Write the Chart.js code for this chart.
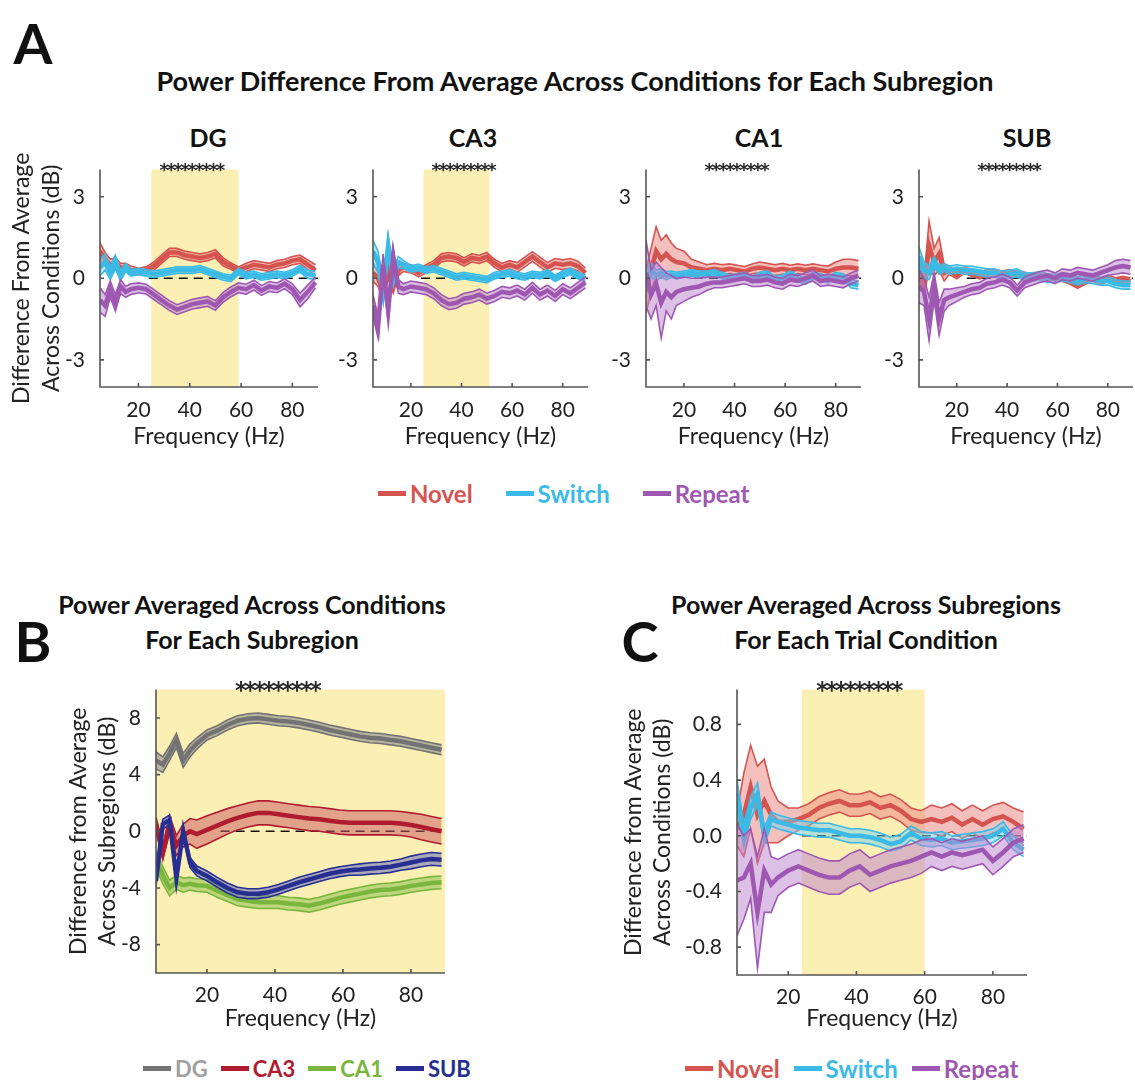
<!DOCTYPE html>
<html>
<head>
<meta charset="utf-8">
<script src="https://cdn.jsdelivr.net/npm/chart.js@4.4.0/dist/chart.umd.min.js"></script>
<style>
  body { margin: 0; background: #fff; width: 1135px; height: 1080px; position: relative; overflow: hidden; font-family: Lato, "Open Sans", sans-serif; color: #111; }
  canvas { position: absolute; }
  .t { position: absolute; font-weight: bold; white-space: nowrap; transform: translate(-50%, -50%); text-align: center; }
  .letter { font-size: 56px; }
  .title { font-size: 25px; line-height: 35px; }
  .titleA { font-size: 27px; }
  .sub { font-size: 25px; }
  .legend { position: absolute; display: flex; align-items: center; font-weight: bold; height: 28px; }
  .legend span.sw { display: inline-block; width: 28px; height: 5px; margin-right: 4px; }
  .legend .item { display: flex; align-items: center; }
</style>
</head>
<body>
<div class="t letter" style="left:33px;top:42px">A</div>
<div class="t title titleA" style="left:575px;top:80px">Power Difference From Average Across Conditions for Each Subregion</div>
<div class="t sub" style="left:208px;top:137px">DG</div>
<div class="t sub" style="left:473px;top:137px">CA3</div>
<div class="t sub" style="left:759px;top:137px">CA1</div>
<div class="t sub" style="left:1027px;top:137px">SUB</div>

<div class="t letter" style="left:33px;top:640px">B</div>
<div class="t title" style="left:252px;top:622px">Power Averaged Across Conditions<br>For Each Subregion</div>
<div class="t letter" style="left:640px;top:640px">C</div>
<div class="t title" style="left:866px;top:622px">Power Averaged Across Subregions<br>For Each Trial Condition</div>

<canvas id="dg"></canvas>
<canvas id="ca3"></canvas>
<canvas id="ca1"></canvas>
<canvas id="sub"></canvas>
<canvas id="chartB"></canvas>
<canvas id="chartC"></canvas>

<div class="legend" id="legA" style="left:378px;top:479px;font-size:24px"></div>
<div class="legend" id="legB" style="left:143px;top:1054px;font-size:22px"></div>
<div class="legend" id="legC" style="left:685px;top:1054px;font-size:24px"></div>

<script>
// frequency axis (Hz)
const freqs = [5,7,9,11,13,15,17,20,23,26,29,32,35,38,41,44,47,50,53,56,59,62,65,68,71,74,77,80,83,86,89];

// Panel A - DG
const dgNovel     = [1.0,0.7,0.5,0.55,0.4,0.4,0.3,0.25,0.3,0.45,0.7,0.95,0.95,0.85,0.8,0.75,0.8,0.9,0.6,0.45,0.3,0.4,0.5,0.45,0.4,0.5,0.55,0.65,0.7,0.5,0.3];
const dgNovelErr  = [0.3,0.25,0.2,0.2,0.15,0.15,0.15,0.12,0.12,0.15,0.15,0.15,0.15,0.15,0.15,0.15,0.15,0.15,0.15,0.12,0.12,0.15,0.15,0.15,0.15,0.15,0.15,0.15,0.15,0.18,0.2];
const dgSwitch    = [0.4,0.6,0.2,0.6,0.1,0.4,0.2,0.25,0.2,0.15,0.2,0.25,0.3,0.3,0.3,0.35,0.25,0.15,0.05,0.0,0.25,0.1,0.15,0.05,0.1,0.15,0.1,0.2,0.35,0.15,0.1];
const dgSwitchErr = [0.3,0.3,0.25,0.25,0.2,0.15,0.12,0.12,0.12,0.12,0.12,0.12,0.12,0.12,0.12,0.12,0.12,0.12,0.12,0.12,0.12,0.12,0.12,0.12,0.12,0.12,0.12,0.12,0.12,0.15,0.15];
const dgRepeat    = [-0.8,-1.0,-0.4,-0.9,-0.3,-0.5,-0.4,-0.35,-0.4,-0.6,-0.8,-1.0,-1.15,-1.05,-0.95,-0.9,-0.85,-1.0,-0.7,-0.5,-0.35,-0.4,-0.25,-0.45,-0.3,-0.35,-0.2,-0.4,-0.8,-0.5,-0.15];
const dgRepeatErr = [0.45,0.4,0.3,0.3,0.25,0.2,0.2,0.18,0.18,0.18,0.18,0.18,0.18,0.18,0.18,0.18,0.18,0.18,0.18,0.18,0.18,0.18,0.18,0.18,0.18,0.18,0.18,0.2,0.25,0.25,0.2];

// Panel A - CA3
const ca3Novel     = [0.2,0.0,-0.5,0.3,-0.3,0.3,0.4,0.35,0.2,0.35,0.5,0.75,0.8,0.75,0.6,0.75,0.7,0.8,0.55,0.4,0.5,0.4,0.6,0.8,0.6,0.4,0.55,0.5,0.55,0.45,0.2];
const ca3NovelErr  = [0.3,0.3,0.3,0.3,0.25,0.2,0.15,0.15,0.15,0.15,0.15,0.15,0.15,0.15,0.15,0.15,0.15,0.15,0.15,0.15,0.15,0.18,0.18,0.18,0.18,0.18,0.18,0.18,0.18,0.18,0.18];
const ca3Switch    = [1.0,0.6,-0.5,1.2,0.0,0.6,0.5,0.35,0.4,0.3,0.35,0.25,0.15,0.05,0.1,0.05,0.0,-0.05,0.1,0.15,0.2,0.1,0.05,0.15,0.1,0.2,0.0,0.15,0.25,0.1,0.0];
const ca3SwitchErr = [0.4,0.4,0.4,0.4,0.3,0.2,0.15,0.12,0.12,0.12,0.12,0.12,0.12,0.12,0.12,0.12,0.12,0.12,0.12,0.12,0.12,0.12,0.12,0.12,0.12,0.12,0.12,0.12,0.12,0.12,0.12];
const ca3Repeat    = [-1.0,-1.8,0.5,-1.2,0.8,-0.3,-0.4,-0.3,-0.35,-0.4,-0.55,-0.8,-0.95,-0.9,-0.75,-0.7,-0.6,-0.75,-0.65,-0.5,-0.55,-0.45,-0.6,-0.35,-0.6,-0.45,-0.65,-0.4,-0.55,-0.35,-0.15];
const ca3RepeatErr = [0.4,0.4,0.4,0.4,0.3,0.25,0.2,0.2,0.2,0.2,0.2,0.2,0.2,0.2,0.2,0.2,0.2,0.2,0.2,0.2,0.2,0.2,0.2,0.2,0.2,0.2,0.2,0.2,0.2,0.2,0.2];

// Panel A - CA1
const ca1Novel     = [-0.5,0.3,1.0,0.7,0.9,0.7,0.6,0.55,0.4,0.35,0.3,0.35,0.3,0.35,0.3,0.25,0.35,0.4,0.35,0.3,0.35,0.3,0.35,0.3,0.35,0.3,0.25,0.35,0.4,0.4,0.35];
const ca1NovelErr  = [0.8,0.8,0.9,0.7,0.7,0.6,0.5,0.45,0.3,0.25,0.2,0.2,0.2,0.18,0.18,0.18,0.18,0.2,0.2,0.2,0.2,0.18,0.18,0.18,0.18,0.18,0.2,0.25,0.3,0.3,0.3];
const ca1Switch    = [0.0,0.3,0.1,0.2,0.1,0.15,0.1,0.15,0.2,0.15,0.15,0.2,0.1,0.0,0.05,0.1,-0.05,0.1,0.15,-0.05,0.0,0.15,0.0,-0.1,0.1,0.05,-0.05,0.1,0.05,-0.2,-0.25];
const ca1SwitchErr = [0.3,0.25,0.2,0.15,0.15,0.12,0.12,0.12,0.12,0.12,0.12,0.12,0.12,0.12,0.12,0.12,0.12,0.12,0.12,0.12,0.12,0.12,0.12,0.12,0.12,0.12,0.12,0.12,0.12,0.15,0.15];
const ca1Repeat    = [0.2,-0.6,-0.2,-0.9,-0.5,-0.7,-0.5,-0.4,-0.35,-0.3,-0.2,-0.15,-0.15,-0.1,-0.05,0.0,-0.1,-0.1,-0.05,-0.15,-0.2,-0.05,-0.1,0.0,0.1,-0.1,-0.05,-0.1,-0.15,0.0,0.1];
const ca1RepeatErr = [1.2,0.9,0.8,1.3,0.7,0.8,0.5,0.45,0.35,0.3,0.25,0.2,0.2,0.2,0.2,0.2,0.2,0.2,0.2,0.2,0.2,0.2,0.2,0.2,0.2,0.2,0.2,0.2,0.2,0.2,0.2];

// Panel A - SUB
const subNovel     = [0.3,-0.3,1.2,0.6,0.9,0.2,0.3,0.1,0.3,0.2,0.1,0.2,0.2,0.15,0.2,0.15,0.1,0.05,0.1,0.05,0.0,0.0,-0.1,-0.25,-0.1,0.0,-0.1,0.0,-0.1,-0.05,-0.1];
const subNovelErr  = [0.3,0.3,0.9,0.5,0.6,0.3,0.15,0.12,0.12,0.12,0.12,0.12,0.12,0.12,0.12,0.12,0.12,0.12,0.12,0.12,0.12,0.12,0.12,0.12,0.12,0.12,0.12,0.12,0.12,0.12,0.12];
const subSwitch    = [0.8,0.3,0.2,0.6,0.3,0.4,0.3,0.35,0.3,0.3,0.25,0.2,0.2,0.1,0.15,0.2,0.05,0.05,0.1,0.0,0.0,0.05,0.0,-0.1,0.0,-0.05,-0.1,-0.1,-0.2,-0.25,-0.25];
const subSwitchErr = [0.35,0.3,0.25,0.2,0.15,0.15,0.15,0.15,0.15,0.15,0.15,0.15,0.15,0.15,0.15,0.15,0.15,0.15,0.15,0.15,0.15,0.15,0.15,0.15,0.15,0.15,0.15,0.15,0.15,0.15,0.15];
const subRepeat    = [-0.3,-0.5,-1.5,-0.3,-1.5,-0.8,-0.7,-0.6,-0.5,-0.4,-0.35,-0.2,-0.15,-0.05,-0.15,-0.45,-0.15,-0.05,0.05,0.1,0.0,0.15,0.1,0.2,0.15,0.1,0.2,0.3,0.4,0.45,0.4];
const subRepeatErr = [0.6,0.5,0.8,0.5,0.6,0.4,0.3,0.25,0.2,0.2,0.2,0.2,0.2,0.2,0.2,0.2,0.2,0.2,0.2,0.2,0.2,0.2,0.2,0.2,0.2,0.2,0.2,0.2,0.25,0.25,0.25];

// Panel B - subregions averaged over conditions
const bDG     = [5.0,4.7,5.5,6.4,5.0,5.7,6.2,6.8,7.1,7.5,7.8,7.95,8.0,7.9,7.8,7.75,7.65,7.5,7.35,7.15,7.0,6.85,6.7,6.6,6.55,6.45,6.35,6.2,6.05,5.9,5.75];
const bDGErr  = [0.6,0.55,0.5,0.5,0.5,0.45,0.4,0.35,0.35,0.35,0.35,0.35,0.35,0.35,0.35,0.35,0.35,0.35,0.35,0.35,0.35,0.35,0.35,0.35,0.35,0.35,0.35,0.35,0.35,0.35,0.35];
const bCA3    = [0.5,-1.5,0.5,-1.0,-0.3,0.0,-0.2,0.1,0.4,0.7,0.95,1.15,1.3,1.3,1.2,1.1,1.0,0.9,0.85,0.75,0.65,0.6,0.6,0.6,0.6,0.6,0.55,0.45,0.3,0.15,0.0];
const bCA3Err = [0.5,0.5,0.6,0.7,0.8,0.9,1.0,1.0,0.95,0.9,0.85,0.85,0.85,0.85,0.85,0.85,0.85,0.85,0.85,0.85,0.85,0.85,0.85,0.85,0.85,0.85,0.85,0.85,0.9,0.9,0.9];
const bCA1    = [-2.0,-3.1,-4.0,-3.6,-3.8,-3.7,-3.8,-3.85,-4.2,-4.5,-4.8,-4.9,-5.0,-5.0,-5.0,-5.1,-5.15,-5.25,-5.1,-4.9,-4.7,-4.55,-4.4,-4.25,-4.15,-4.1,-4.0,-3.85,-3.75,-3.65,-3.6];
const bCA1Err = [0.6,0.6,0.55,0.5,0.5,0.45,0.45,0.45,0.45,0.45,0.45,0.45,0.45,0.45,0.45,0.45,0.45,0.45,0.45,0.45,0.45,0.45,0.45,0.45,0.45,0.45,0.45,0.45,0.45,0.45,0.45];
const bSUB    = [-3.5,0.5,0.8,-3.3,0.0,-2.2,-2.8,-3.15,-3.6,-4.0,-4.3,-4.4,-4.4,-4.3,-4.1,-3.85,-3.6,-3.4,-3.2,-3.0,-2.85,-2.75,-2.7,-2.62,-2.58,-2.5,-2.35,-2.2,-2.05,-1.95,-2.0];
const bSUBErr = [0.35,0.35,0.35,0.35,0.35,0.35,0.35,0.35,0.35,0.35,0.35,0.35,0.35,0.35,0.35,0.35,0.35,0.35,0.35,0.35,0.35,0.35,0.4,0.4,0.4,0.4,0.4,0.45,0.45,0.45,0.45];

// Panel C - conditions averaged over subregions
const cNovel     = [0.05,0.15,0.35,0.15,0.25,0.15,0.1,0.1,0.12,0.15,0.2,0.23,0.25,0.22,0.22,0.24,0.2,0.22,0.18,0.12,0.1,0.12,0.1,0.13,0.08,0.12,0.08,0.12,0.14,0.1,0.05];
const cNovelErr  = [0.12,0.3,0.3,0.35,0.3,0.2,0.15,0.1,0.08,0.08,0.08,0.08,0.08,0.08,0.08,0.08,0.08,0.08,0.08,0.08,0.08,0.1,0.1,0.1,0.1,0.1,0.1,0.1,0.1,0.1,0.12];
const cSwitch    = [0.3,0.0,0.2,0.3,0.0,0.12,0.1,0.08,0.06,0.05,0.04,0.04,0.02,0.0,0.0,-0.01,-0.03,-0.06,-0.04,0.02,-0.02,-0.03,-0.02,-0.05,-0.04,-0.03,-0.02,0.0,0.05,-0.05,-0.1];
const cSwitchErr = [0.1,0.08,0.08,0.08,0.06,0.05,0.05,0.05,0.05,0.05,0.05,0.05,0.05,0.05,0.05,0.05,0.05,0.05,0.05,0.05,0.05,0.05,0.05,0.05,0.05,0.05,0.05,0.05,0.05,0.05,0.05];
const cRepeat    = [-0.32,-0.3,-0.2,-0.55,-0.25,-0.35,-0.3,-0.25,-0.22,-0.25,-0.28,-0.3,-0.3,-0.25,-0.22,-0.28,-0.25,-0.22,-0.2,-0.18,-0.15,-0.12,-0.15,-0.12,-0.14,-0.12,-0.1,-0.18,-0.12,-0.05,-0.02];
const cRepeatErr = [0.4,0.3,0.25,0.4,0.3,0.2,0.13,0.12,0.12,0.12,0.12,0.12,0.12,0.12,0.12,0.12,0.12,0.12,0.12,0.12,0.12,0.1,0.1,0.1,0.1,0.1,0.1,0.1,0.1,0.1,0.1];

const xTickValues = [20, 40, 60, 80];
const aTickValues = [-3, 0, 3];
const bTickValues = [-8, -4, 0, 4, 8];
const cTickValues = [-0.8, -0.4, 0, 0.4, 0.8];
const conditionNames = ["Novel", "Switch", "Repeat"];
const subregionNames = ["DG", "CA3", "CA1", "SUB"];

const condColors = [
  { line: "rgb(214,84,80)",  fill: "rgba(232,130,125,0.5)", text: "rgb(214,84,80)" },
  { line: "rgb(58,186,230)", fill: "rgba(120,205,235,0.5)", text: "rgb(58,186,230)" },
  { line: "rgb(158,88,178)", fill: "rgba(185,130,205,0.5)", text: "rgb(158,88,178)" }
];
const regionColors = [
  { line: "rgb(115,115,115)", fill: "rgba(150,150,150,0.65)", text: "rgb(160,160,160)" },
  { line: "rgb(175,28,48)",   fill: "rgba(200,85,95,0.5)",    text: "rgb(175,28,48)" },
  { line: "rgb(122,182,62)",  fill: "rgba(130,190,70,0.5)",   text: "rgb(122,182,62)" },
  { line: "rgb(38,46,145)",   fill: "rgba(90,100,190,0.5)",   text: "rgb(38,46,145)" }
];

Chart.defaults.font.family = "Lato, 'Open Sans', sans-serif";
Chart.defaults.color = "#222";

function pts(vals) {
  return vals.map((v, i) => ({ x: freqs[i], y: v }));
}

// mean line + shaded band between mean-err and mean+err
function bandSets(series) {
  const ds = [];
  const n = series.length;
  series.forEach((s, k) => {
    const base = (n - k) * 10;
    ds.push({ data: pts(s.mean.map((m, i) => m + s.err[i])), borderColor: s.c.line, borderWidth: 1.6, pointRadius: 0, fill: false, order: base + 1 });
    ds.push({ data: pts(s.mean.map((m, i) => m - s.err[i])), borderColor: s.c.line, borderWidth: 1.6, pointRadius: 0, fill: "-1", backgroundColor: s.c.fill, order: base + 2 });
    ds.push({ data: pts(s.mean), borderColor: s.c.line, borderWidth: 4.5, pointRadius: 0, fill: false, order: base });
  });
  return ds;
}

const decor = {
  id: "decor",
  beforeDatasetsDraw(chart, args, o) {
    const { ctx, chartArea: a, scales: { x, y } } = chart;
    ctx.save();
    if (o.band) {
      const x1 = x.getPixelForValue(o.band[0]), x2 = x.getPixelForValue(o.band[1]);
      ctx.fillStyle = "#fcefb4";
      ctx.fillRect(x1, a.top, x2 - x1, a.bottom - a.top);
    }
    const y0 = y.getPixelForValue(0);
    ctx.strokeStyle = "#111";
    ctx.lineWidth = 1.5;
    ctx.setLineDash([9, 6]);
    ctx.beginPath();
    ctx.moveTo(x.getPixelForValue(24), y0);
    ctx.lineTo(a.right, y0);
    ctx.stroke();
    ctx.restore();
  },
  afterDraw(chart, args, o) {
    const { ctx, chartArea: a, scales: { x, y } } = chart;
    ctx.save();
    // axes with inward ticks
    ctx.strokeStyle = "#555";
    ctx.lineWidth = 1.6;
    ctx.beginPath();
    ctx.moveTo(a.left, a.top);
    ctx.lineTo(a.left, a.bottom);
    ctx.lineTo(a.right, a.bottom);
    xTickValues.forEach(v => { const px = x.getPixelForValue(v); ctx.moveTo(px, a.bottom); ctx.lineTo(px, a.bottom - 4); });
    o.yTicks.forEach(v => { const py = y.getPixelForValue(v); ctx.moveTo(a.left, py); ctx.lineTo(a.left + 4, py); });
    ctx.stroke();
    // significance asterisks
    ctx.fillStyle = "#2a2a2a";
    ctx.font = "bold " + o.starSize + "px 'DejaVu Sans'";
    ctx.textAlign = "center";
    ctx.textBaseline = "alphabetic";
    for (let k = 0; k < 9; k++) {
      const f = 30 + k * 2.75;
      ctx.fillText("*", x.getPixelForValue(f), a.top + o.starDy);
    }
    ctx.restore();
  }
};

function makeChart(id, box, series, yRange, yTicks, fmt, yTitle, band, starSize, starDy) {
  const cv = document.getElementById(id);
  cv.width = box.w; cv.height = box.h;
  cv.style.left = box.left + "px"; cv.style.top = box.top + "px";
  cv.style.width = box.w + "px"; cv.style.height = box.h + "px";
  return new Chart(cv, {
    type: "line",
    data: { datasets: bandSets(series) },
    options: {
      responsive: false,
      animation: false,
      devicePixelRatio: 1,
      layout: { padding: { top: box.padTop, right: box.padRight, left: 0, bottom: 0 } },
      plugins: {
        legend: { display: false },
        tooltip: { enabled: false },
        decor: { band: band, yTicks: yTicks, starSize: starSize, starDy: starDy }
      },
      scales: {
        x: {
          type: "linear", min: 5, max: 90,
          grid: { display: false }, border: { display: false },
          afterBuildTicks: s => { s.ticks = xTickValues.map(v => ({ value: v })); },
          afterFit: s => { s.height = box.xH; },
          ticks: { font: { size: 21 }, padding: box.xTickPad, color: "#222", maxRotation: 0 },
          title: { display: true, text: "Frequency (Hz)", font: { size: 23 }, color: "#222", padding: { top: 0, bottom: box.xTitlePad } }
        },
        y: {
          min: yRange[0], max: yRange[1],
          grid: { display: false }, border: { display: false },
          afterBuildTicks: s => { s.ticks = yTicks.map(v => ({ value: v })); },
          afterFit: s => { s.width = box.yW; },
          ticks: { font: { size: 21 }, padding: 7, color: "#222", callback: fmt },
          title: yTitle
            ? { display: true, text: yTitle, font: { size: 23, lineHeight: box.yLine }, color: "#222", padding: { top: box.yTitlePad, bottom: 0 } }
            : { display: false }
        }
      }
    },
    plugins: [decor]
  });
}

const intFmt = v => String(v);
const decFmt = v => v.toFixed(1);
const aTitle = ["Difference From Average", "Across Conditions (dB)"];

function condSeries(m1, e1, m2, e2, m3, e3) {
  return [
    { mean: m1, err: e1, c: condColors[0] },
    { mean: m2, err: e2, c: condColors[1] },
    { mean: m3, err: e3, c: condColors[2] }
  ];
}

makeChart("dg",  { left: 0,   top: 150, w: 322, h: 306, padTop: 17, padRight: 4, yW: 100, xH: 69, xTickPad: 3, xTitlePad: 6, yLine: 1.3, yTitlePad: 7 },
  condSeries(dgNovel, dgNovelErr, dgSwitch, dgSwitchErr, dgRepeat, dgRepeatErr), [-4, 4], aTickValues, intFmt, aTitle, [25, 59], 18, 6);
makeChart("ca3", { left: 313, top: 150, w: 279, h: 306, padTop: 17, padRight: 4, yW: 60, xH: 69, xTickPad: 3, xTitlePad: 6 },
  condSeries(ca3Novel, ca3NovelErr, ca3Switch, ca3SwitchErr, ca3Repeat, ca3RepeatErr), [-4, 4], aTickValues, intFmt, null, [25, 51], 18, 6);
makeChart("ca1", { left: 586, top: 150, w: 279, h: 306, padTop: 17, padRight: 4, yW: 60, xH: 69, xTickPad: 3, xTitlePad: 6 },
  condSeries(ca1Novel, ca1NovelErr, ca1Switch, ca1SwitchErr, ca1Repeat, ca1RepeatErr), [-4, 4], aTickValues, intFmt, null, null, 18, 6);
makeChart("sub", { left: 859, top: 150, w: 276, h: 306, padTop: 17, padRight: 2, yW: 60, xH: 69, xTickPad: 3, xTitlePad: 6 },
  condSeries(subNovel, subNovelErr, subSwitch, subSwitchErr, subRepeat, subRepeatErr), [-4, 4], aTickValues, intFmt, null, null, 18, 6);

makeChart("chartB", { left: 60, top: 670, w: 389, h: 370, padTop: 18, padRight: 4, yW: 96, xH: 67, xTickPad: 2, xTitlePad: 8, yLine: 1.22, yTitlePad: 5 },
  [
    { mean: bDG,  err: bDGErr,  c: regionColors[0] },
    { mean: bCA3, err: bCA3Err, c: regionColors[1] },
    { mean: bCA1, err: bCA1Err, c: regionColors[2] },
    { mean: bSUB, err: bSUBErr, c: regionColors[3] }
  ], [-10, 10], bTickValues, intFmt, ["Difference from Average", "Across Subregions (dB)"], [5, 90], 23, 8);

makeChart("chartC", { left: 615, top: 670, w: 416, h: 370, padTop: 19, padRight: 4, yW: 122, xH: 65, xTickPad: 2, xTitlePad: 8, yLine: 1.22, yTitlePad: 5 },
  condSeries(cNovel, cNovelErr, cSwitch, cSwitchErr, cRepeat, cRepeatErr), [-1.0, 1.05], cTickValues, decFmt,
  ["Difference from Average", "Across Conditions (dB)"], [24, 60], 23, 8);

function buildLegend(id, names, colors, gap) {
  const el = document.getElementById(id);
  names.forEach((n, i) => {
    const item = document.createElement("div");
    item.className = "item";
    item.style.marginRight = gap + "px";
    item.innerHTML = '<span class="sw" style="background:' + colors[i].line + '"></span><span style="color:' + colors[i].text + '">' + n + "</span>";
    el.appendChild(item);
  });
}
buildLegend("legA", conditionNames, condColors, 33);
buildLegend("legB", subregionNames, regionColors, 13);
buildLegend("legC", conditionNames, condColors, 14);
</script>
</body>
</html>
